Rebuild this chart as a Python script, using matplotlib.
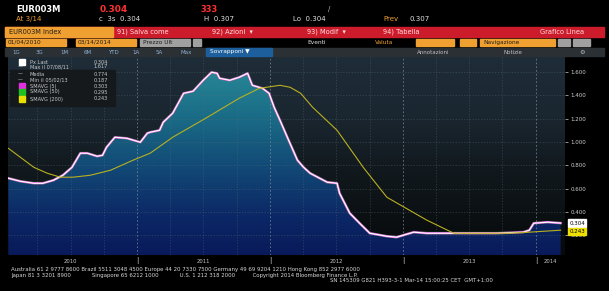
import numpy as np
import pandas as pd
import matplotlib
matplotlib.use("Agg")
import matplotlib.pyplot as plt
import matplotlib.dates as mdates
from matplotlib.patches import Rectangle
from matplotlib.colors import LinearSegmentedColormap

# ================== data ==================
px_dates = ['2010-01-11', '2010-02-13', '2010-03-22', '2010-04-16', '2010-05-15',
            '2010-06-10', '2010-07-05', '2010-07-28', '2010-08-16', '2010-09-12',
            '2010-09-27', '2010-10-08', '2010-10-31', '2010-12-03', '2011-01-09',
            '2011-01-28', '2011-02-05', '2011-03-03', '2011-03-13', '2011-04-08',
            '2011-05-08', '2011-06-03', '2011-07-01', '2011-07-24', '2011-08-08',
            '2011-08-15', '2011-09-12', '2011-10-08', '2011-10-31', '2011-11-13',
            '2011-12-11', '2011-12-29', '2012-01-12', '2012-01-28', '2012-02-16',
            '2012-03-16', '2012-04-02', '2012-04-20', '2012-06-06', '2012-07-03',
            '2012-07-10', '2012-08-07', '2012-09-03', '2012-10-01', '2012-11-17',
            '2012-12-14', '2013-01-11', '2013-01-30', '2013-03-07', '2013-05-09',
            '2013-07-21', '2013-09-14', '2013-11-27', '2013-12-14', '2013-12-26',
            '2014-02-02', '2014-03-10']
px_last = [0.689, 0.663, 0.646, 0.646, 0.672,
           0.715, 0.783, 0.904, 0.904, 0.878,
           0.886, 0.955, 1.041, 1.032, 0.998,
           1.075, 1.084, 1.101, 1.170, 1.247,
           1.418, 1.436, 1.530, 1.599, 1.590,
           1.547, 1.530, 1.556, 1.590, 1.487,
           1.461, 1.418, 1.298, 1.187, 1.050,
           0.844, 0.783, 0.732, 0.655, 0.646,
           0.560, 0.389, 0.303, 0.217, 0.191,
           0.183, 0.209, 0.226, 0.217, 0.217,
           0.217, 0.217, 0.226, 0.243, 0.303,
           0.312, 0.304]

ma_dates = ['2010-01-11', '2010-02-13', '2010-03-22', '2010-04-28', '2010-06-03',
            '2010-07-08', '2010-08-25', '2010-10-19', '2010-12-20', '2011-02-05',
            '2011-04-08', '2011-07-12', '2011-10-08', '2011-12-02', '2012-01-28',
            '2012-02-25', '2012-03-25', '2012-04-27', '2012-07-03', '2012-09-13',
            '2012-11-17', '2013-01-04', '2013-03-07', '2013-05-20', '2013-07-21',
            '2013-10-19', '2013-12-14', '2014-03-10']
ma_200 = [0.946, 0.869, 0.783, 0.732, 0.698,
          0.698, 0.715, 0.758, 0.844, 0.904,
          1.041, 1.212, 1.376, 1.461, 1.487,
          1.470, 1.418, 1.298, 1.101, 0.783,
          0.526, 0.440, 0.329, 0.217, 0.217,
          0.217, 0.226, 0.243]

y_ticks = [0.2, 0.4, 0.6, 0.8, 1.0, 1.2, 1.4, 1.6]
years = ['2010', '2011', '2012', '2013', '2014']

legend_rows = [('Px Last', '0.304', 'white'),
               ('Max il 07/08/11', '1.617', None),
               ('Media', '0.774', None),
               ('Min il 05/02/13', '0.187', None),
               ('SMAVG (5)', '0.303', '#e030e0'),
               ('SMAVG (50)', '0.295', '#20c020'),
               ('SMAVG (200)', '0.243', '#e8e000')]

# ================== figure ==================
W, H = 609, 291
fig = plt.figure(figsize=(W / 100, H / 100), dpi=100, facecolor='black')
plt.rcParams['font.family'] = ['DejaVu Sans']


def box(x0, y0, x1, y1, color):
    fig.patches.append(Rectangle((x0 / W, 1 - y1 / H), (x1 - x0) / W, (y1 - y0) / H,
                                 transform=fig.transFigure, color=color, zorder=0))


def txt(x, y, s, color='#e0e0e0', size=4.5, **kw):
    fig.text(x / W, 1 - y / H, s, color=color, fontsize=size, va='center', **kw)


ORANGE = '#f0a030'
RED = '#cc1c2c'

# header rows
txt(16, 9, 'EUR003M', 'white', 6, weight='bold')
txt(100, 9, '0.304', '#ff3030', 6.5, weight='bold')
txt(200, 9, '333', '#ff3030', 6, weight='bold')
txt(328, 9, '/', '#c0c0c0', 5)
txt(16, 19, 'At 3/14', ORANGE, 5)
txt(99, 19, 'c  3s  0.304', '#e0e0e0', 5)
txt(204, 19, 'H  0.307', '#e0e0e0', 5)
txt(293, 19, 'Lo  0.304', '#e0e0e0', 5)
txt(383, 19, 'Prev', ORANGE, 5)
txt(410, 19, '0.307', '#e0e0e0', 5)

box(5, 27, 604, 37, RED)
box(5, 27, 113, 37, ORANGE)
txt(9, 32, 'EUR003M Index', '#202020', 4.8)
txt(117, 32, '91) Salva come', '#ffe0e0', 4.8)
txt(212, 32, '92) Azioni  \u25be', '#ffe0e0', 4.8)
txt(307, 32, '93) Modif  \u25be', '#ffe0e0', 4.8)
txt(383, 32, '94) Tabella', '#ffe0e0', 4.8)
txt(540, 32, 'Grafico Linea', '#ffe0e0', 4.8)

box(6, 39, 66, 46, ORANGE)
txt(8, 42.5, '01/04/2010', '#202020', 4.2)
box(76, 39, 136, 46, ORANGE)
txt(78, 42.5, '03/14/2014', '#202020', 4.2)
box(140, 39, 190, 46, '#a0a0a0')
txt(143, 42.5, 'Prezzo Ult', '#202020', 4.2)
box(193, 39, 201, 46, '#a0a0a0')
txt(307, 42.5, 'Eventi', '#e0e0e0', 4.2)
txt(375, 42.5, 'Valuta', ORANGE, 4.2)
box(416, 39, 454, 46, ORANGE)
box(460, 39, 476, 46, ORANGE)
box(480, 39, 555, 46, ORANGE)
txt(483, 42.5, 'Navigazione', '#202020', 4.2)
box(558, 39, 570, 46, '#a0a0a0')
box(573, 39, 590, 46, '#a0a0a0')

box(5, 48, 604, 56, '#2b3035')
for i, lab in enumerate(['1G', '3G', '1M', '6M', 'YTD', '1A', '5A', 'Max']):
    txt(12 + i * 24, 52, lab, '#8fb0d0', 4)
box(206, 48, 272, 56, '#1d5f9c')
txt(210, 52, 'Sovrapponi \u25bc', 'white', 4.2)
txt(417, 52, 'Annotazioni', '#c0c0c0', 4)
txt(503, 52, 'Notizie', '#c0c0c0', 4)
txt(579, 52, '\u2699', '#c0c0c0', 4.5)

# ================== main chart ==================
ax = fig.add_axes([8 / W, 1 - 255 / H, (565 - 8) / W, (255 - 57) / H])
ax.set_facecolor('black')
x0 = mdates.date2num(pd.Timestamp('2010-01-10'))
x1 = mdates.date2num(pd.Timestamp('2014-03-22'))
y0, y1 = 0.03, 1.73
ax.set_xlim(x0, x1)
ax.set_ylim(y0, y1)

bg_cmap = LinearSegmentedColormap.from_list(
    'bg', [(0.0, '#07090c'), (0.2, '#0b1013'), (0.45, '#121a1f'),
           (0.7, '#1a2630'), (1.0, '#1f2d38')])
grad = np.linspace(0, 1, 256).reshape(-1, 1)
ax.imshow(grad, extent=[x0, x1, y0, y1], origin='lower', aspect='auto',
          cmap=bg_cmap, zorder=0)

fill_cmap = LinearSegmentedColormap.from_list(
    'fill', [(0.0, '#091a5a'), (0.2, '#0c2866'), (0.45, '#124a76'),
             (0.7, '#1a6c86'), (1.0, '#2a8f9c')])
dates = pd.to_datetime(px_dates)
poly = ax.fill_between(dates, px_last, y0, facecolor='none', edgecolor='none')
im = ax.imshow(grad, extent=[x0, x1, y0, y1], origin='lower', aspect='auto',
               cmap=fill_cmap, zorder=1)
im.set_clip_path(poly.get_paths()[0], transform=ax.transData)

# grid
for yr in range(2010, 2015):
    for q, m in enumerate([1, 4, 7, 10]):
        d = mdates.date2num(pd.Timestamp(f'{yr}-{m:02d}-01'))
        if x0 < d < x1:
            ax.axvline(d, color='#8090a0' if q == 0 else '#5a6a78',
                       lw=0.6 if q == 0 else 0.45, ls=(0, (2, 2.5)),
                       alpha=0.8 if q == 0 else 0.6, zorder=2)
for yv in y_ticks:
    ax.axhline(yv, color='#5a6a78', lw=0.45, ls=(0, (2, 2.5)), alpha=0.6, zorder=2)

# series
ax.plot(dates, px_last, color='#20c020', lw=2.0, alpha=0.5, zorder=3)
ax.plot(dates, px_last, color='#e040e0', lw=1.6, zorder=4)
ax.plot(dates, px_last, color='white', lw=0.9, zorder=5)
ax.plot(pd.to_datetime(ma_dates), ma_200, color='#b8b020', lw=0.8, zorder=6)

# axes styling
for s in ax.spines.values():
    s.set_visible(False)
ax.set_xticks([])
ax.yaxis.tick_right()
ax.set_yticks(y_ticks)
ax.set_yticklabels([f'{v:.3f}' for v in y_ticks])
ax.tick_params(axis='y', colors='#d0d0d0', labelsize=4, length=2, width=0.5, pad=2)

# last value boxes
ax.annotate(f'{px_last[-1]:.3f}', xy=(1, px_last[-1]), xycoords=('axes fraction', 'data'),
            xytext=(3, 0), textcoords='offset points', fontsize=4, color='black',
            va='center', bbox=dict(boxstyle='square,pad=0.25', fc='white', ec='white'),
            annotation_clip=False, zorder=10)
ax.annotate(f'{ma_200[-1]:.3f}', xy=(1, ma_200[-1]), xycoords=('axes fraction', 'data'),
            xytext=(3, -1), textcoords='offset points', fontsize=4, color='black',
            va='center', bbox=dict(boxstyle='square,pad=0.25', fc='#f0e000', ec='#f0e000'),
            annotation_clip=False, zorder=10)

# legend
box(10, 70, 115, 106, '#16191c')
fig.patches[-1].set_zorder(5)
leg_y = [62, 67, 74, 80, 86, 92, 99]
for (name, val, col), yy in zip(legend_rows, leg_y):
    if col is not None:
        fig.patches.append(Rectangle((19 / W, 1 - (yy + 2.5) / H), 6 / W, 5 / H,
                                     transform=fig.transFigure, color=col, zorder=6))
    else:
        txt(18, yy, '\u2014', '#d0d0d0', 3.5, zorder=6)
    txt(30, yy, name, '#c8c8c8', 3.6, zorder=6)
    txt(94, yy, val, '#c8c8c8', 3.6, zorder=6)

# x labels and footer
for i, yr in enumerate(years):
    d = mdates.date2num(pd.Timestamp(f'{yr}-07-01'))
    if i == len(years) - 1:
        d = mdates.date2num(pd.Timestamp(f'{yr}-02-10'))
    ax.text(d, -0.02, yr, transform=ax.get_xaxis_transform(), color='#c8c8c8',
            fontsize=3.8, ha='center', va='top')
for yr in years[1:]:
    d = mdates.date2num(pd.Timestamp(f'{yr}-01-01'))
    ax.text(d, -0.01, '|', transform=ax.get_xaxis_transform(), color='#c8c8c8',
            fontsize=5, ha='center', va='top')

txt(11, 269, 'Australia 61 2 9777 8600 Brazil 5511 3048 4500 Europe 44 20 7330 7500 '
    'Germany 49 69 9204 1210 Hong Kong 852 2977 6000', '#d8d8d8', 3.9)
txt(11, 275, 'Japan 81 3 3201 8900            Singapore 65 6212 1000            '
    'U.S. 1 212 318 2000          Copyright 2014 Bloomberg Finance L.P.', '#d8d8d8', 3.9)
txt(330, 281, 'SN 145309 G821 H393-3-1 Mar-14 15:00:25 CET  GMT+1:00', '#d8d8d8', 3.9)

fig.savefig('out.png', dpi=100, facecolor='black')
